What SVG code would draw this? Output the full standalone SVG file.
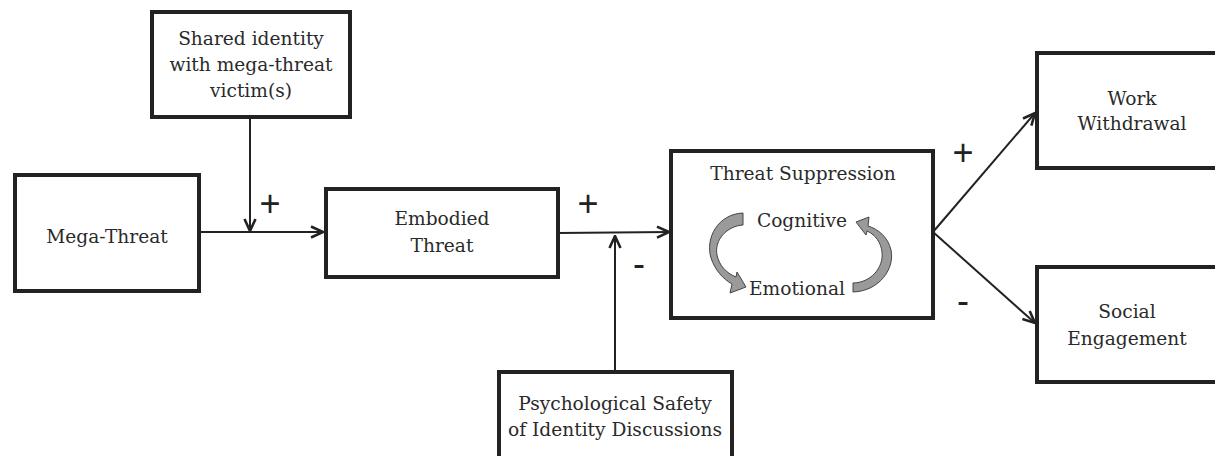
<svg xmlns="http://www.w3.org/2000/svg" width="1215" height="456" viewBox="0 0 1215 456">
<style>
.box{fill:#fff;stroke:#222;stroke-width:4}
.t{font-family:"DejaVu Serif","Liberation Serif",serif;font-size:18.6px;fill:#2a2a2a;text-anchor:middle}
.c{stroke:#222;stroke-width:2;fill:none}
.s{font-family:"Liberation Sans",Arial,sans-serif;font-size:36px;fill:#222;text-anchor:middle}
.cyc{fill:#9a9a9a;stroke:#444;stroke-width:1}
</style>
<defs>
<marker id="ah" viewBox="0 0 14 14" refX="13" refY="7" markerWidth="14" markerHeight="14" markerUnits="userSpaceOnUse" orient="auto">
<path d="M1,1.5 L13,7 L1,12.5" fill="none" stroke="#222" stroke-width="2.6"/>
</marker>
</defs>
<g id="connectors">
<line class="c" x1="250" y1="117" x2="250" y2="231" marker-end="url(#ah)"/>
<line class="c" x1="199" y1="232" x2="323" y2="232" marker-end="url(#ah)"/>
<line class="c" x1="558" y1="233" x2="669" y2="232" marker-end="url(#ah)"/>
<line class="c" x1="615" y1="372" x2="615" y2="236" marker-end="url(#ah)"/>
<line class="c" x1="933" y1="232" x2="1035" y2="113" marker-end="url(#ah)"/>
<line class="c" x1="933" y1="232" x2="1035" y2="323" marker-end="url(#ah)"/>
<text class="s" x="270" y="216">+</text>
<text class="s" x="588" y="216">+</text>
<text class="s" x="963" y="165">+</text>
<text class="s" x="639" y="276">-</text>
<text class="s" x="963" y="313">-</text>
</g>
<g id="shared">
<rect class="box" x="152" y="12" width="198" height="105"/>
<text class="t" x="251" y="45">Shared identity</text>
<text class="t" x="251" y="71">with mega-threat</text>
<text class="t" x="251" y="97">victim(s)</text>
</g>
<g id="mega">
<rect class="box" x="15" y="175" width="184" height="116"/>
<text class="t" x="107" y="243">Mega-Threat</text>
</g>
<g id="embodied">
<rect class="box" x="326" y="189" width="232" height="88"/>
<text class="t" x="442" y="225">Embodied</text>
<text class="t" x="442" y="252">Threat</text>
</g>
<g id="suppression">
<rect class="box" x="671" y="151" width="262" height="167"/>
<text class="t" x="803" y="180">Threat Suppression</text>
<text class="t" x="802" y="227">Cognitive</text>
<text class="t" x="797" y="295">Emotional</text>
<path class="cyc" d="M743,213 C718,214 705,238 711,258 C715,270 723,279 732,284 L730,293 L746,287 L737,272 L736,277 C726,273 719,265 717,255 C714,240 727,226 743,225 Z"/>
<path class="cyc" d="M853,292 C880,291 895,268 891,250 C888,237 878,229 868,226 L869,217 L856,222 L866,235 L867,231 C876,235 881,243 882,252 C884,268 870,283 853,283 Z"/>
</g>
<g id="work">
<rect class="box" x="1037" y="53" width="200" height="115"/>
<text class="t" x="1132" y="105">Work</text>
<text class="t" x="1132" y="130">Withdrawal</text>
</g>
<g id="social">
<rect class="box" x="1037" y="267" width="200" height="115"/>
<text class="t" x="1127" y="318">Social</text>
<text class="t" x="1127" y="345">Engagement</text>
</g>
<g id="psych">
<rect class="box" x="499" y="372" width="233" height="110"/>
<text class="t" x="615" y="410">Psychological Safety</text>
<text class="t" x="615" y="436">of Identity Discussions</text>
</g>
</svg>
